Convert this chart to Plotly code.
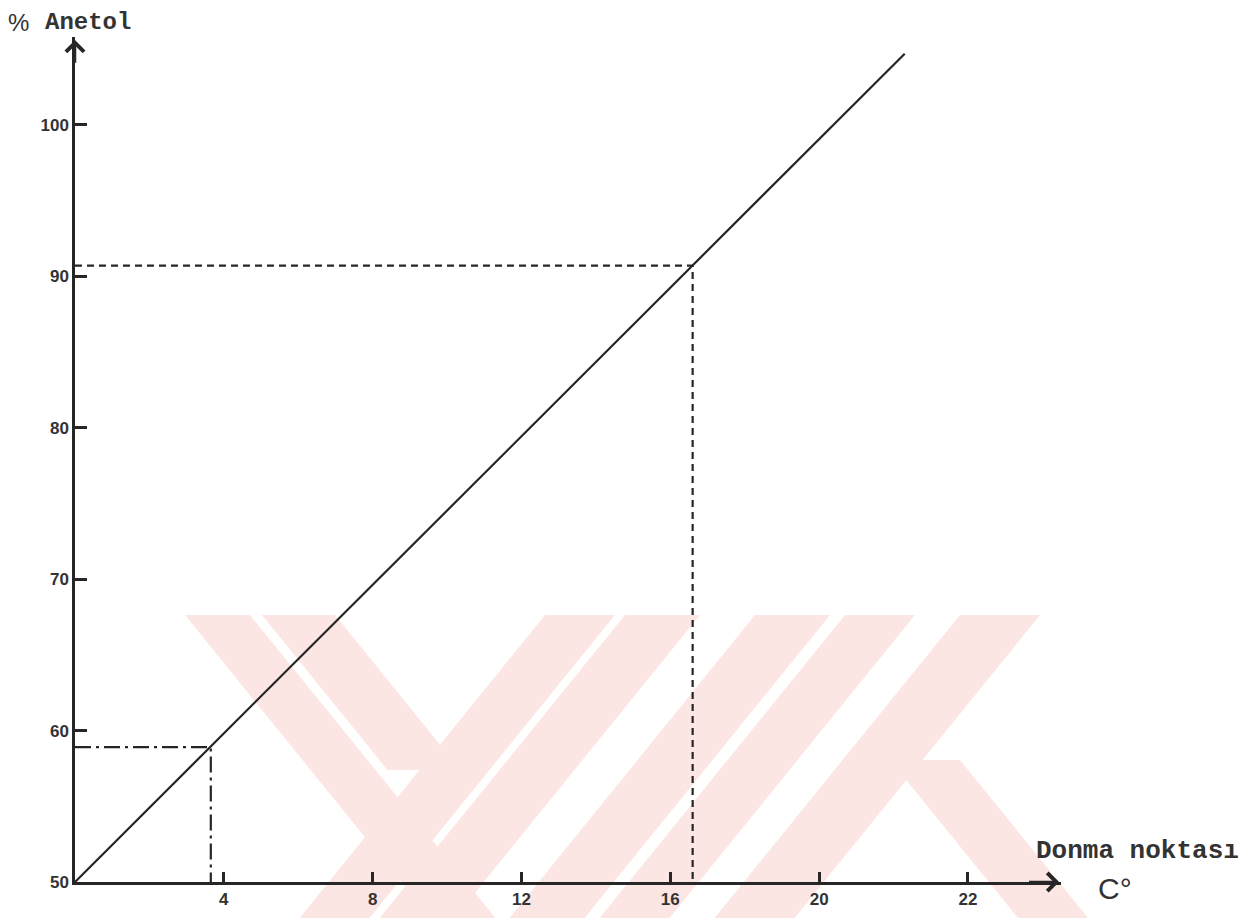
import plotly.graph_objects as go

# ---- data ----
line_x = [0, 22.3]
line_y = [50, 104.7]

dash_point = (16.6, 90.7)      # dashed reading lines
dashdot_point = (3.65, 58.9)   # dash-dot reading lines

x_tickvals = [4, 8, 12, 16, 20, 24]
x_ticktext = ["4", "8", "12", "16", "20", "22"]
y_tickvals = [50, 60, 70, 80, 90, 100]
y_ticktext = ["50", "60", "70", "80", "90", "100"]

# page body has an 8px margin: figure pixel = screen pixel - 8
OFF = 8
W, H = 1244, 910
L, T = 75 - OFF, 37 - OFF
PW = 1061 - 75
PH = 882 - 37
R = W - L - PW
B = H - T - PH

def px(x):          # screen pixel -> paper x
    return (x - OFF - L) / PW

def py(y):          # screen pixel -> paper y
    return (T + PH - (y - OFF)) / PH

INK = "#262626"

fig = go.Figure()

# main line
fig.add_trace(go.Scatter(x=line_x, y=line_y, mode="lines",
                         line=dict(color=INK, width=2.2), hoverinfo="skip"))
# dashed reading lines
fig.add_trace(go.Scatter(x=[0, dash_point[0], dash_point[0]],
                         y=[dash_point[1], dash_point[1], 50], mode="lines",
                         line=dict(color=INK, width=2.2, dash="7px,5px"), hoverinfo="skip"))
# dash-dot reading lines
fig.add_trace(go.Scatter(x=[0, dashdot_point[0], dashdot_point[0]],
                         y=[dashdot_point[1], dashdot_point[1], 50], mode="lines",
                         line=dict(color=INK, width=2.2, dash="16px,5px,3px,5px"), hoverinfo="skip"))

# ---- faint watermark (decorative) ----
pink = "#fce6e3"
top, bot = 615, 930
k = 0.81
def band(xa, xb, y0, y1, direction):
    s = k * (y1 - y0) * (1 if direction == "\\" else -1)
    pts = [(xa, y0), (xb, y0), (xb + s, y1), (xa + s, y1)]
    path = "M " + " L ".join(f"{px(a):.5f},{py(b):.5f}" for a, b in pts) + " Z"
    return dict(type="path", path=path, xref="paper", yref="paper",
                fillcolor=pink, line=dict(width=0), layer="below")

shapes = [
    band(185, 250, top, bot, "\\"),
    band(262, 335, top, 770, "\\"),
    band(545, 615, top, bot, "/"),
    band(625, 700, top, bot, "/"),
    band(755, 830, top, bot, "/"),
    band(845, 915, top, bot, "/"),
    band(960, 1040, top, bot, "/"),
    band(890, 960, 760, bot, "\\"),
]

annotations = [
    # axis arrowheads
    dict(x=26.45, y=50, ax=25.6, ay=50, xref="x", yref="y", axref="x", ayref="y",
         showarrow=True, arrowhead=4, arrowsize=1.4, arrowwidth=2.5, arrowcolor=INK, text=""),
    dict(x=0, y=105.6, ax=0, ay=104.0, xref="x", yref="y", axref="x", ayref="y",
         showarrow=True, arrowhead=4, arrowsize=1.4, arrowwidth=2.5, arrowcolor=INK, text=""),
    # axis titles
    dict(x=px(7), y=py(8), xref="paper", yref="paper", xanchor="left", yanchor="top",
         text="%", showarrow=False, borderpad=0,
         font=dict(family="Liberation Sans", size=24, color="#333")),
    dict(x=px(44), y=py(8), xref="paper", yref="paper", xanchor="left", yanchor="top",
         text="<b>Anetol</b>", showarrow=False, borderpad=0,
         font=dict(family="Liberation Mono", size=24, color="#333")),
    dict(x=px(1240), y=py(851), xref="paper", yref="paper", xanchor="right", yanchor="middle",
         text="<b>Donma noktası</b>", showarrow=False, borderpad=0,
         font=dict(family="Liberation Mono", size=26, color="#333")),
    dict(x=px(1097), y=py(888), xref="paper", yref="paper", xanchor="left", yanchor="middle",
         text="C°", showarrow=False, borderpad=0,
         font=dict(family="Liberation Sans", size=30, color="#333")),
]

tickfont = dict(family="Liberation Sans", size=17, color="#333", weight="bold")

fig.update_layout(
    width=W, height=H,
    margin=dict(l=L, r=R, t=T, b=B, autoexpand=False),
    paper_bgcolor="white", plot_bgcolor="rgba(0,0,0,0)",
    showlegend=False,
    shapes=shapes,
    annotations=annotations,
    xaxis=dict(range=[0, 26.5], tickvals=x_tickvals, ticktext=x_ticktext,
               ticks="inside", ticklen=10, tickwidth=2.5, tickcolor=INK,
               showline=True, linecolor=INK, linewidth=2.5,
               showgrid=False, zeroline=False, tickfont=tickfont,
               automargin=False, fixedrange=True),
    yaxis=dict(range=[50, 105.8], tickvals=y_tickvals, ticktext=y_ticktext,
               ticks="inside", ticklen=12, tickwidth=2.5, tickcolor=INK,
               showline=True, linecolor=INK, linewidth=2.5,
               showgrid=False, zeroline=False, tickfont=tickfont,
               automargin=False, fixedrange=True),
)

fig.write_html("out.html")
